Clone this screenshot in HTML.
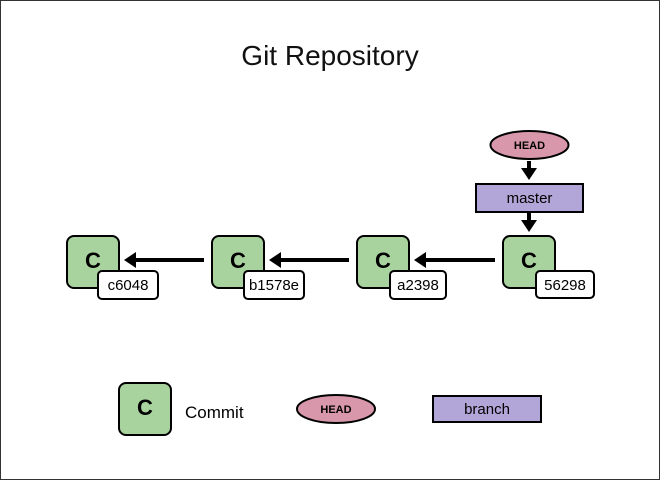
<!DOCTYPE html>
<html><head><style>body{margin:0;background:#fff}svg{display:block}text{font-family:"Liberation Sans",sans-serif}</style></head><body>
<svg width="660" height="480" viewBox="0 0 660 480" xmlns="http://www.w3.org/2000/svg">
<defs><marker id="a" markerWidth="4" markerHeight="4" refX="1" refY="2" orient="auto" markerUnits="strokeWidth"><path d="M0,0 L3,2 L0,4 Z" fill="#000"/></marker></defs>
<rect x="0.5" y="0.5" width="659" height="479" fill="#fff" stroke="#333"/>
<text x="330" y="65" font-size="28" text-anchor="middle" fill="#111">Git Repository</text>
<g stroke="#000" stroke-width="4" fill="none">
<line x1="204" y1="260" x2="132" y2="260" marker-end="url(#a)"/>
<line x1="349" y1="260" x2="277" y2="260" marker-end="url(#a)"/>
<line x1="495" y1="260" x2="422" y2="260" marker-end="url(#a)"/>
<line x1="529" y1="161" x2="529" y2="172" marker-end="url(#a)"/>
<line x1="529" y1="213" x2="529" y2="224" marker-end="url(#a)"/>
</g>
<g font-size="22" font-weight="bold" text-anchor="middle">
<rect x="67" y="236" width="52" height="52" rx="7" fill="#a9d39e" stroke="#000" stroke-width="2"/><text x="93" y="268">C</text>
<rect x="212" y="236" width="52" height="52" rx="7" fill="#a9d39e" stroke="#000" stroke-width="2"/><text x="238" y="268">C</text>
<rect x="357" y="236" width="52" height="52" rx="7" fill="#a9d39e" stroke="#000" stroke-width="2"/><text x="383" y="268">C</text>
<rect x="503" y="236" width="52" height="52" rx="7" fill="#a9d39e" stroke="#000" stroke-width="2"/><text x="529" y="268">C</text>
<rect x="119" y="383" width="52" height="52" rx="7" fill="#a9d39e" stroke="#000" stroke-width="2"/><text x="145" y="415">C</text>
</g>
<g font-size="15" text-anchor="middle">
<rect x="98" y="271" width="60" height="28" rx="4" fill="#fff" stroke="#000" stroke-width="2"/><text x="128" y="290">c6048</text>
<rect x="244" y="271" width="60" height="28" rx="4" fill="#fff" stroke="#000" stroke-width="2"/><text x="274" y="290">b1578e</text>
<rect x="390" y="271" width="56" height="28" rx="4" fill="#fff" stroke="#000" stroke-width="2"/><text x="418" y="290">a2398</text>
<rect x="536" y="271" width="58" height="27" rx="4" fill="#fff" stroke="#000" stroke-width="2"/><text x="565" y="290">56298</text>
</g>
<ellipse cx="529.5" cy="145" rx="39" ry="14" fill="#d897ab" stroke="#000" stroke-width="2"/>
<text x="529.5" y="149" font-size="11" font-weight="bold" text-anchor="middle">HEAD</text>
<rect x="476" y="184" width="107" height="28" fill="#b2a6d9" stroke="#000" stroke-width="2"/>
<text x="529.5" y="203" font-size="15" text-anchor="middle">master</text>
<text x="185" y="418" font-size="17">Commit</text>
<ellipse cx="336" cy="409" rx="39" ry="14" fill="#d897ab" stroke="#000" stroke-width="2"/>
<text x="336" y="413" font-size="11" font-weight="bold" text-anchor="middle">HEAD</text>
<rect x="433" y="396" width="108" height="26" fill="#b2a6d9" stroke="#000" stroke-width="2"/>
<text x="487" y="414" font-size="15" text-anchor="middle">branch</text>
</svg>
</body></html>
